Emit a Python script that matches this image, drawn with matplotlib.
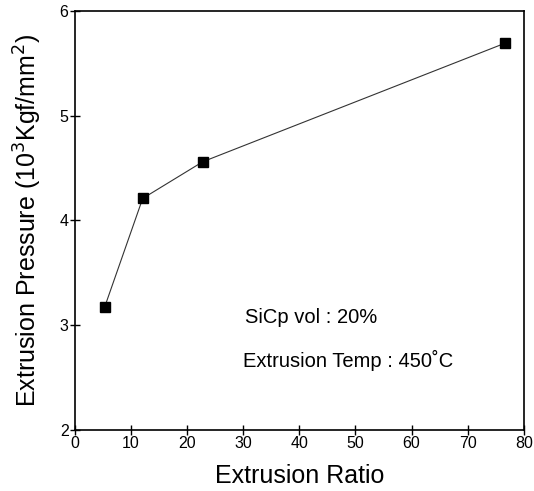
import matplotlib
matplotlib.use("Agg")
import matplotlib.pyplot as plt

ratio = [5.3, 12.1, 22.8, 76.6]
pressure = [3.17, 4.21, 4.56, 5.69]
xticks = [0, 10, 20, 30, 40, 50, 60, 70, 80]
yticks = [2, 3, 4, 5, 6]

plt.rcParams['font.family'] = ['Liberation Sans', 'DejaVu Sans']

fig = plt.figure(figsize=(5.34, 4.91), dpi=100)
ax = fig.add_axes([0.140, 0.124, 0.841, 0.854])
ax.plot(ratio, pressure, color='#333333', lw=0.8, marker='s', ms=7,
        mfc='black', mec='black')
ax.set_xlim(0, 80)
ax.set_ylim(2, 6)
ax.set_xticks(xticks)
ax.set_yticks(yticks)
ax.tick_params(direction='inout', length=7, width=1, labelsize=11.5, pad=1)
for s in ax.spines.values():
    s.set_linewidth(1.2)
ax.set_xlabel('Extrusion Ratio', fontsize=18, labelpad=9)
ax.set_ylabel('Extrusion Pressure (10$^3$Kgf/mm$^2$)', fontsize=18, labelpad=11)
ax.text(30.3, 3.07, 'SiCp vol : 20%', fontsize=14.5, va='center', ha='left')
ax.text(30.0, 2.66, 'Extrusion Temp : 450˚C', fontsize=14.5, va='center', ha='left')
fig.savefig('out.png', dpi=100)
